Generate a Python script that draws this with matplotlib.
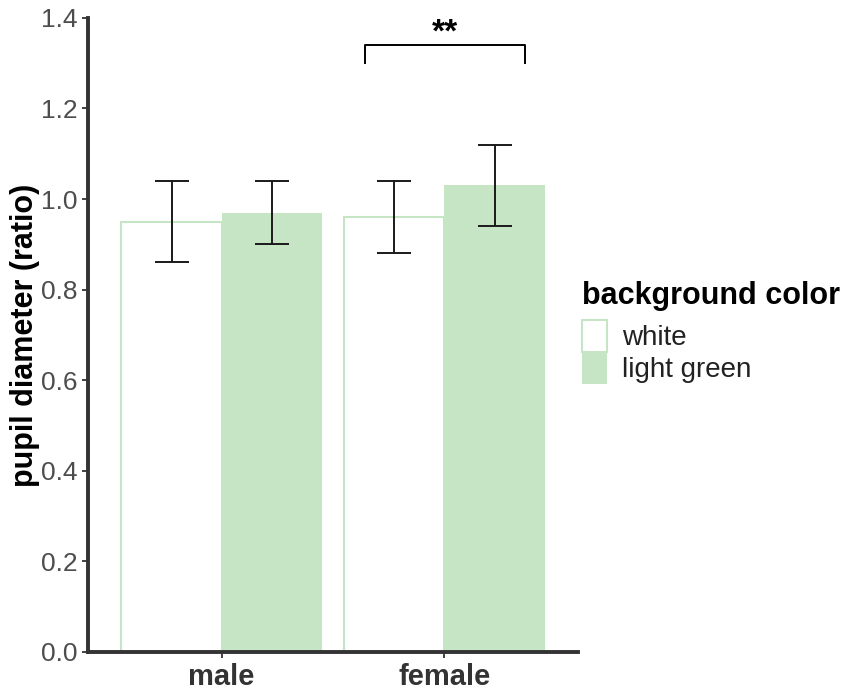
import numpy as np
import matplotlib.pyplot as plt
from matplotlib.patches import Patch

plt.rcParams['font.family'] = ['Liberation Sans', 'DejaVu Sans']

groups = ["male", "female"]
bg_colors = ["white", "light green"]
means = {"white": [0.95, 0.96], "light green": [0.97, 1.03]}
err_lo = {"white": [0.86, 0.88], "light green": [0.90, 0.94]}
err_hi = {"white": [1.04, 1.04], "light green": [1.04, 1.12]}

green = "#c6e5c4"
fig = plt.figure(figsize=(8.51, 6.93), dpi=100)
ax = fig.add_axes([0.1034, 0.0592, 0.576, 0.915])

x = np.arange(1, len(groups) + 1)
w = 0.45
offs = {"white": -w / 2, "light green": w / 2}
for c in bg_colors:
    xs = x + offs[c]
    m = np.array(means[c])
    if c == "white":
        ax.bar(xs, m, width=w, color="white", edgecolor=green, linewidth=1.5, zorder=2)
    else:
        ax.bar(xs, m, width=w, color=green, edgecolor="none", zorder=2)
    lo = m - np.array(err_lo[c])
    hi = np.array(err_hi[c]) - m
    ax.errorbar(xs, m, yerr=[lo, hi], fmt="none", ecolor="#1a1a1a",
                elinewidth=1.4, capsize=12.5, capthick=1.4, zorder=3)

# significance bracket
bx0, bx1, by0, by1 = 2 - 0.355, 2 + 0.36, 1.30, 1.34
ax.plot([bx0, bx0, bx1, bx1], [by0, by1, by1, by0], color="black", lw=1.4,
        clip_on=False, zorder=4)
ax.text((bx0 + bx1) / 2, 1.366, "**", ha="center", va="center", fontsize=24,
        fontweight="bold", color="black")

ax.set_xlim(0.4, 2.6)
ax.set_ylim(0, 1.4)
ax.set_yticks(np.arange(0, 1.41, 0.2))
ax.set_yticklabels([f"{v:.1f}" for v in np.arange(0, 1.41, 0.2)])
ax.set_xticks(x)
ax.set_xticklabels(groups, fontweight="bold", color="#333333", fontsize=21)
ax.tick_params(axis="y", labelsize=19, labelcolor="#4d4d4d", color="#333333",
               width=1.3, length=4)
ax.tick_params(axis="x", color="#333333", width=1.3, length=4, pad=4)
ax.set_ylabel("pupil diameter (ratio)", fontsize=22, fontweight="bold",
              color="black", labelpad=1)
for s in ["top", "right"]:
    ax.spines[s].set_visible(False)
for s in ["left", "bottom"]:
    ax.spines[s].set_linewidth(2.8)
    ax.spines[s].set_color("#333333")

handles = [Patch(facecolor="white", edgecolor=green, linewidth=1.5),
           Patch(facecolor=green, edgecolor="none")]
leg = fig.legend(handles, bg_colors, loc="upper left", bbox_to_anchor=(0.684, 0.594),
                 frameon=False, fontsize=20, title="background color",
                 title_fontproperties={"weight": "bold", "size": 22},
                 handlelength=0.9, handleheight=1.4, handletextpad=0.55,
                 labelspacing=0.0, borderaxespad=0, borderpad=0)
leg._legend_box.align = "left"
leg._legend_box.sep = 6
for t in leg.get_texts():
    t.set_color("#222222")

fig.savefig("out.png", dpi=100)
